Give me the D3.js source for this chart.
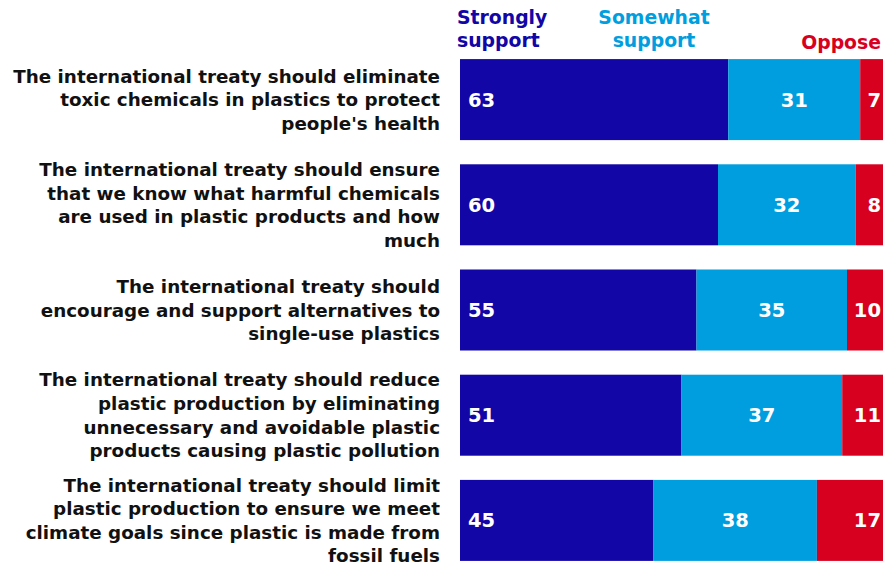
<!DOCTYPE html>
<html>
<head>
<meta charset="utf-8">
<script src="https://cdn.jsdelivr.net/npm/d3@7"></script>
<style>
  body { margin: 0; background: #fff; }
  svg { display: block; font-family: "DejaVu Sans", sans-serif; font-weight: bold; }
</style>
</head>
<body>
<svg id="chart"></svg>
<script>
// questions, line breaks as in the original
const categories = [
    "The international treaty should eliminate|toxic chemicals in plastics to protect|people's health",
    "The international treaty should ensure|that we know what harmful chemicals|are used in plastic products and how|much",
    "The international treaty should|encourage and support alternatives to|single-use plastics",
    "The international treaty should reduce|plastic production by eliminating|unnecessary and avoidable plastic|products causing plastic pollution",
    "The international treaty should limit|plastic production to ensure we meet|climate goals since plastic is made from|fossil fuels"
];
const seriesNames = ["Strongly support", "Somewhat support", "Oppose"];
const strongly = [63, 60, 55, 51, 45];
const somewhat = [31, 32, 35, 37, 38];
const oppose = [7, 8, 10, 11, 17];

const colors = ["#1206a6", "#009ede", "#d8001f"];

const width = 883, height = 564;
const svg = d3.select('#chart').attr('width', width).attr('height', height);

const rows = categories.map((c, i) => ({
    cat: c, "Strongly support": strongly[i], "Somewhat support": somewhat[i], "Oppose": oppose[i]
}));
// each row spans the full width (rounded shares may not add to 100)
const stack = d3.stack().keys(seriesNames).offset(d3.stackOffsetExpand)(rows);

const x = d3.scaleLinear().domain([0, 1]).range([460, 890]);
const y = d3.scaleBand().domain(categories).range([47, 573]).paddingInner(0.23).paddingOuter(0.115);

// bars
const layers = svg.append('g').selectAll('g')
    .data(stack).join('g')
    .attr('fill', (d, i) => colors[i]);

layers.selectAll('rect')
    .data(d => d).join('rect')
    .attr('x', d => x(d[0]))
    .attr('y', d => y(d.data.cat))
    .attr('width', d => x(d[1]) - x(d[0]))
    .attr('height', y.bandwidth());

// value labels
layers.each(function (layer, li) {
    d3.select(this).selectAll('text')
        .data(layer).join('text')
        .attr('fill', '#fff')
        .attr('font-size', 19.5)
        .attr('dy', '0.36em')
        .attr('y', d => y(d.data.cat) + y.bandwidth() / 2)
        .attr('x', d => li === 0 ? x(d[0]) + 8 : li === 1 ? (x(d[0]) + x(d[1])) / 2 : 881)
        .attr('text-anchor', li === 0 ? 'start' : li === 1 ? 'middle' : 'end')
        .text(d => d.data[layer.key]);
});

// category labels
const lineH = 23.6;
const labels = svg.append('g').selectAll('text')
    .data(categories).join('text')
    .attr('text-anchor', 'end')
    .attr('fill', '#111')
    .attr('font-size', 18)
    .each(function (c) {
        const lines = c.split('|');
        const cy = y(c) + y.bandwidth() / 2 - (lines.length - 1) * lineH / 2;
        d3.select(this).selectAll('tspan')
            .data(lines).join('tspan')
            .attr('x', 440)
            .attr('y', (l, i) => cy + i * lineH)
            .attr('dy', '0.36em')
            .text(l => l);
    });

// fit label font so the first line spans like the original
const probe = labels.filter((d, i) => i === 0).select('tspan').node();
const fs = 18 * 427 / probe.getComputedTextLength();
labels.attr('font-size', fs);

// legend
const legend = [
    { lines: ["Strongly", "support"], x: 457, anchor: 'start', ys: [17, 40] },
    { lines: ["Somewhat", "support"], x: 654, anchor: 'middle', ys: [17, 40] },
    { lines: ["Oppose"], x: 881, anchor: 'end', ys: [42] }
];
svg.append('g').selectAll('text')
    .data(legend).join('text')
    .attr('fill', (d, i) => colors[i])
    .attr('font-size', fs + 0.5)
    .attr('text-anchor', d => d.anchor)
    .each(function (d) {
        d3.select(this).selectAll('tspan')
            .data(d.lines).join('tspan')
            .attr('x', d.x)
            .attr('y', (l, i) => d.ys[i])
            .attr('dy', '0.36em')
            .text(l => l);
    });
</script>
</body>
</html>
